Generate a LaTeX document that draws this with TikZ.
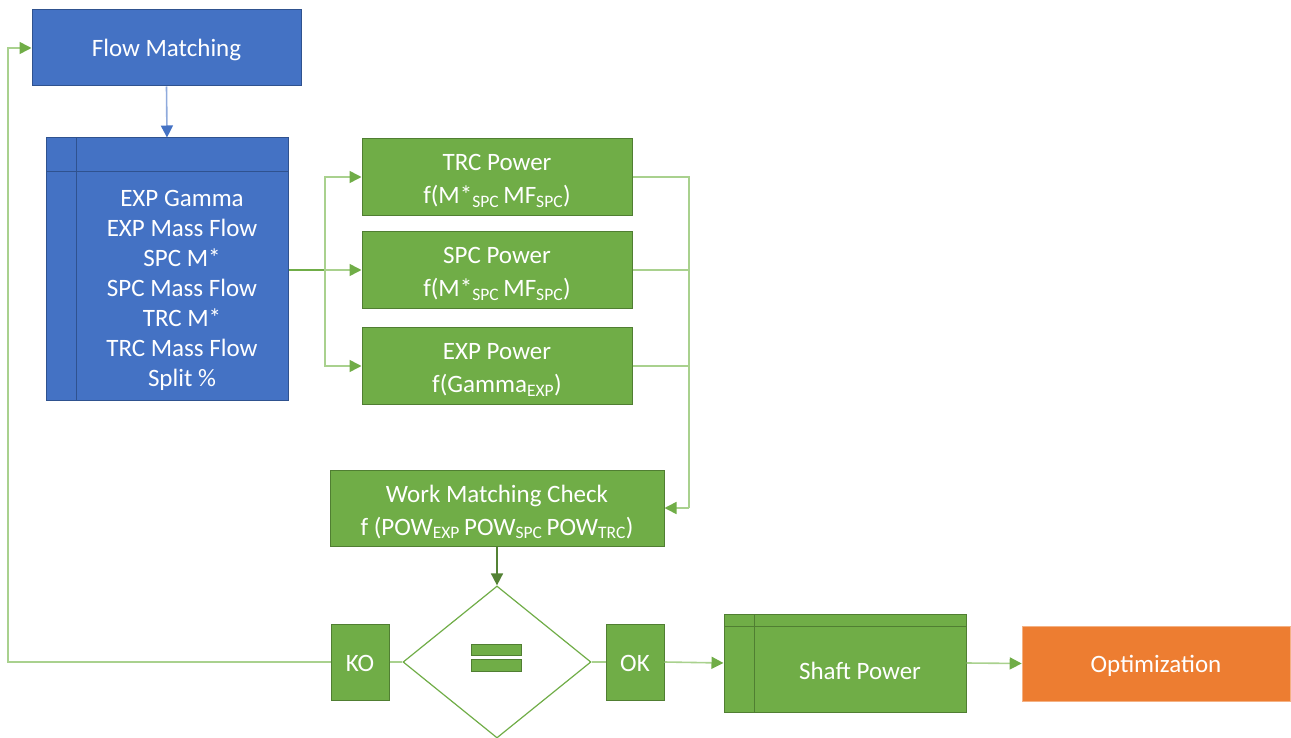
\documentclass[tikz,border=0pt]{standalone}
\usepackage{fontspec}
\setmainfont{Carlito}
\usetikzlibrary{arrows.meta,shapes.geometric}
\definecolor{bluefill}{HTML}{4472C4}
\definecolor{blueline}{HTML}{2F528F}
\definecolor{bluelink}{HTML}{8FAADC}
\definecolor{greenfill}{HTML}{70AD47}
\definecolor{greenline}{HTML}{507E32}
\definecolor{greenlink}{HTML}{A9D18E}
\definecolor{darkgreen}{HTML}{548235}
\definecolor{orangefill}{HTML}{ED7D31}
\definecolor{orangeline}{HTML}{F4B183}
\tikzset{
  txt/.style={text=white, align=center, inner sep=0pt, font=\fontsize{25}{30}\selectfont},
  twoline/.style={txt, font=\fontsize{25}{33}\selectfont},
  bluebox/.style={rectangle, draw=blueline, fill=bluefill, line width=1pt, inner sep=0pt},
  greenbox/.style={rectangle, draw=greenline, fill=greenfill, line width=1pt, inner sep=0pt},
  orangebox/.style={rectangle, draw=orangeline, fill=orangefill, line width=0.6pt, inner sep=0pt},
  link/.style={draw=greenlink, line width=1.6pt},
  arr/.style={-{Triangle[length=12pt,width=12pt,color=#1]}},
  arr/.default=greenfill,
}
\begin{document}
\begin{tikzpicture}[x=1pt,y=-1pt]
\useasboundingbox (0,0) rectangle (1291,738);

% process boxes
\node[bluebox, minimum width=269pt, minimum height=76pt] (flow) at (166.5,48) {};
\node[txt] (flowtext) at ([yshift=-2pt]flow.center) {Flow Matching};

\node[bluebox, minimum width=242pt, minimum height=262pt] (list) at (167,269) {};
\draw[blueline, line width=1pt] (76,138) -- (76,400) (46,172) -- (288,172);
\node[txt] (listtext) at (182,290) {EXP Gamma\\EXP Mass Flow\\SPC M*\\SPC Mass Flow\\TRC M*\\TRC Mass Flow\\Split \%};

\node[greenbox, minimum width=270pt, minimum height=77pt] (trc) at (497,177) {};
\node[twoline] (trctext) at ([yshift=-4pt]trc.center) {TRC Power\\f(M*\textsubscript{SPC}\,MF\textsubscript{SPC})};
\node[greenbox, minimum width=270pt, minimum height=77pt] (spc) at (497,270) {};
\node[twoline] (spctext) at ([yshift=-4pt]spc.center) {SPC Power\\f(M*\textsubscript{SPC}\,MF\textsubscript{SPC})};
\node[greenbox, minimum width=270pt, minimum height=77pt] (exp) at (497,366) {};
\node[twoline] (exptext) at ([yshift=-4pt]exp.center) {EXP Power\\f(Gamma\textsubscript{EXP})};
\node[greenbox, minimum width=334pt, minimum height=76pt] (work) at (497,508) {};
\node[twoline] (worktext) at ([yshift=-4pt]work.center) {Work Matching Check\\f (POW\textsubscript{EXP}\,POW\textsubscript{SPC}\,POW\textsubscript{TRC})};

% decision
\node[diamond, draw=greenfill, fill=white, line width=1.2pt, inner sep=0pt,
      minimum width=188pt, minimum height=152pt] (check) at (497,662) {};
\draw[greenline, fill=greenfill, line width=0.8pt] (471,644) rectangle (521,655) (471,659) rectangle (521,671);
\node[greenbox, minimum width=58pt, minimum height=76pt] (ko) at (360,662) {};
\node[txt] (kotext) at ([yshift=-1pt]ko.center) {KO};
\node[greenbox, minimum width=58pt, minimum height=76pt] (ok) at (635,662) {};
\node[txt] (oktext) at ([yshift=-1pt]ok.center) {OK};

\node[greenbox, minimum width=242pt, minimum height=98pt] (shaft) at (845,663) {};
\draw[greenline, line width=1pt] (754,614) -- (754,712) (724,626) -- (966,626);
\node[txt] (shafttext) at (860,671) {Shaft Power};
\node[orangebox, minimum width=268pt, minimum height=75pt] (opt) at (1156,663.5) {};
\node[txt] (opttext) at ([yshift=-2pt]opt.center) {Optimization};

% connectors
\draw[draw=bluelink, line width=1.6pt, arr=bluefill] (flow.south) -- (list.north);

\coordinate (split) at (325,270);
\draw[draw=greenfill, line width=2pt] (list.east |- split) -- (split);
\draw[link, arr] (split) |- (trc.west);
\draw[link, arr] (split) -- (spc.west);
\draw[link, arr] (split) |- (exp.west);

\coordinate (merge) at (689,508);
\draw[link] (trc.east) -| (merge);
\draw[link] (spc.east) -| (merge);
\draw[link] (exp.east) -| (merge);
\draw[link, arr] (merge) -- (work.east);

\draw[draw=darkgreen, line width=1.6pt, arr=darkgreen] (work.south) -- (check.north);

\draw[link] (ko.east) -- (check.west);
\draw[link] (check.east) -- (ok.west);
\draw[link, arr] (ok.east) -- (shaft.west);
\draw[link, arr] (shaft.east) -- (opt.west);

\coordinate (loop) at (8,662);
\draw[link, arr] (ko.west) -- (loop) |- (flow.west);
\end{tikzpicture}
\end{document}
